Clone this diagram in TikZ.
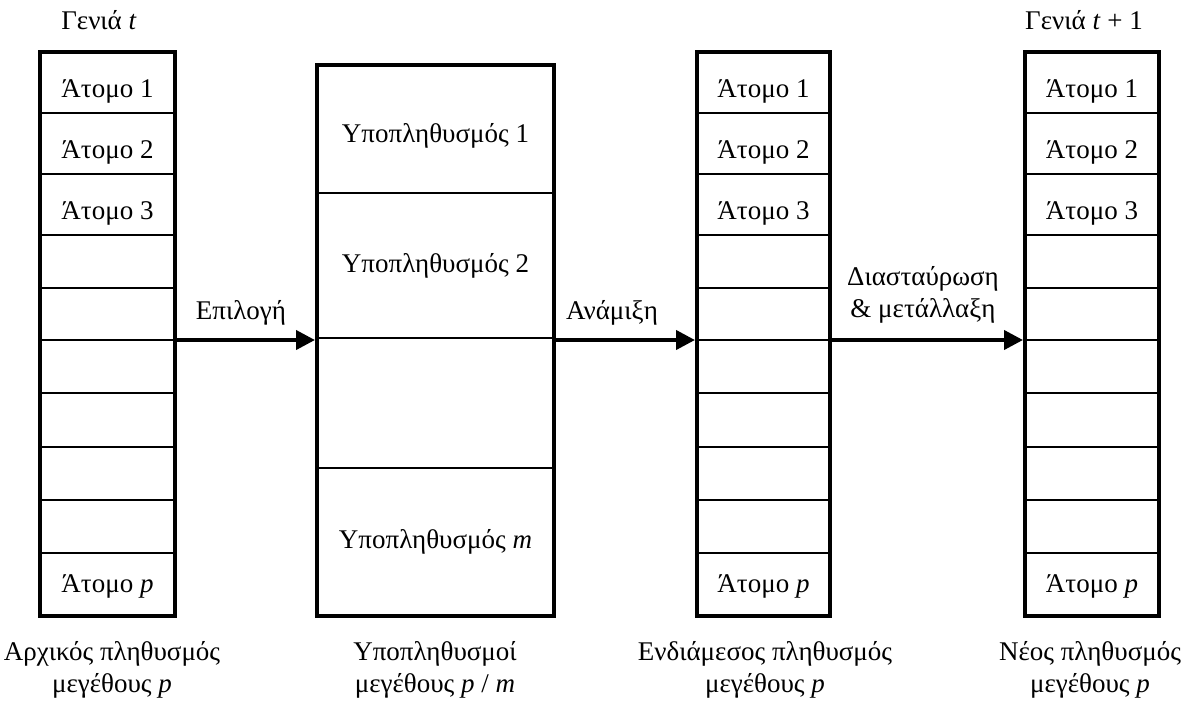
\documentclass[tikz,border=0pt]{standalone}
\usepackage{fontspec}
\setmainfont{Liberation Serif}
\usetikzlibrary{arrows.meta}
\begin{document}
\begin{tikzpicture}[x=1pt,y=-1pt,
  box/.style={draw,line width=4pt,inner sep=0pt,anchor=north west},
  divider/.style={line width=1.5pt},
  arr/.style={line width=4pt,-{Triangle[length=19pt,width=19pt]}},
  txt/.style={anchor=base,inner sep=0pt,font=\fontsize{27}{32}\selectfont},
  lbl/.style={align=center,anchor=base,inner sep=0pt,font=\fontsize{27}{32}\selectfont}]
\useasboundingbox (0,0) rectangle (1189,701);
% column boxes
\node[box,minimum width=135pt,minimum height=564pt] (c1) at (38,50) {};
\node[box,minimum width=237pt,minimum height=551pt] (c2) at (315,63) {};
\node[box,minimum width=133pt,minimum height=564pt] (c3) at (695,50) {};
\node[box,minimum width=134pt,minimum height=564pt] (c4) at (1023,50) {};
% dividers
\foreach \y in {113,174,235,288,340,393,447,500,553}{
  \draw[divider] (c1.west |- 0,\y) -- (c1.east |- 0,\y);
  \draw[divider] (c3.west |- 0,\y) -- (c3.east |- 0,\y);
  \draw[divider] (c4.west |- 0,\y) -- (c4.east |- 0,\y);
}
\foreach \y in {193,338,468}{
  \draw[divider] (c2.west |- 0,\y) -- (c2.east |- 0,\y);
}
% row texts
\foreach \c in {c1,c3,c4}{
  \node[txt] (\c r1) at (\c.north |- 0,97) {Άτομο 1};
  \node[txt] (\c r2) at (\c.north |- 0,158) {Άτομο 2};
  \node[txt] (\c r3) at (\c.north |- 0,219) {Άτομο 3};
  \node[txt] (\c rp) at (\c.north |- 0,592) {Άτομο \textit{p}};
}
\node[txt] (s1) at (c2.north |- 0,142) {Υποπληθυσμός 1};
\node[txt] (s2) at (c2.north |- 0,272) {Υποπληθυσμός 2};
\node[txt] (sm) at (c2.north |- 0,548) {Υποπληθυσμός \textit{m}};
% headers
\node[txt] (h1) at (99,30) {Γενιά \textit{t}};
\node[txt] (h4) at (1084,30) {Γενιά \textit{t} + 1};
% arrows
\coordinate (ya) at (0,340);
\draw[arr] (c1.east |- ya) -- (c2.west |- ya);
\draw[arr] (c2.east |- ya) -- (c3.west |- ya);
\draw[arr] (c3.east |- ya) -- (c4.west |- ya);
\node[txt] (l1) at (241,319) {Επιλογή};
\node[txt] (l2) at (612,319) {Ανάμιξη};
\node[lbl] (l3) at (923,317) {Διασταύρωση\\\& μετάλλαξη};
% bottom labels
\node[lbl] (b1) at (112,692) {Αρχικός πληθυσμός\\μεγέθους \textit{p}};
\node[lbl] (b2) at (435,692) {Υποπληθυσμοί\\μεγέθους \textit{p} / \textit{m}};
\node[lbl] (b3) at (765,692) {Ενδιάμεσος πληθυσμός\\μεγέθους \textit{p}};
\node[lbl] (b4) at (1090,692) {Νέος πληθυσμός\\μεγέθους \textit{p}};
\end{tikzpicture}
\end{document}
